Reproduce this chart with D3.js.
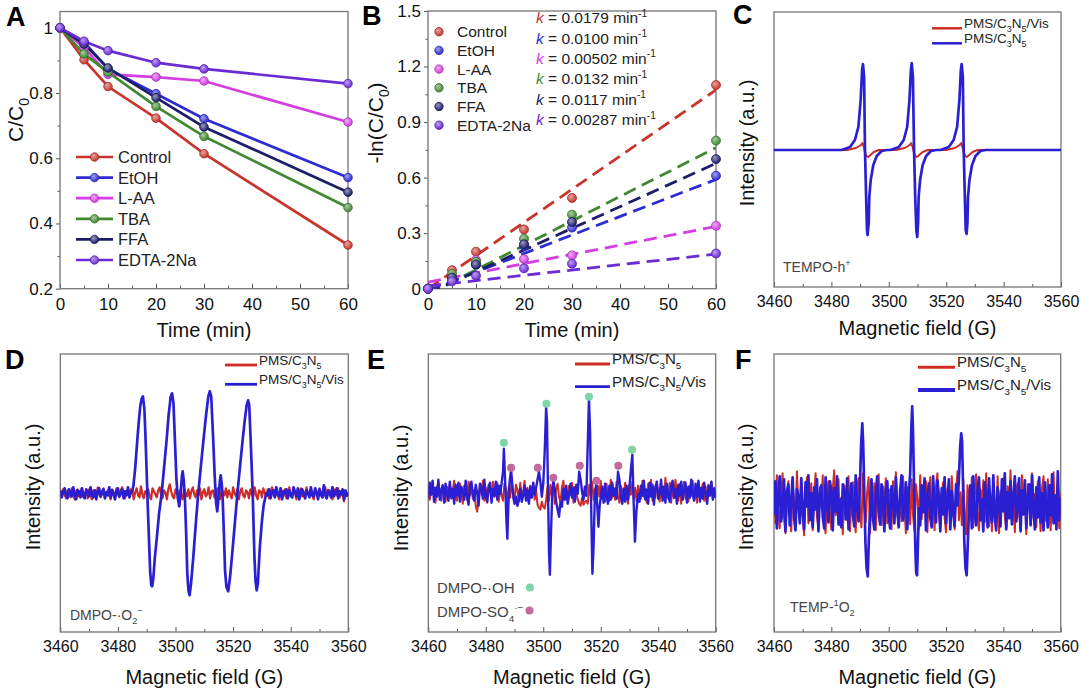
<!DOCTYPE html>
<html><head><meta charset="utf-8">
<script src="https://cdn.jsdelivr.net/npm/d3@7"></script>
<style>body{margin:0;background:#fff}svg{display:block}</style>
</head><body><svg id="c" width="1080" height="691"></svg>
<script>
// ---------------- DATA ----------------
const timeA = [0,5,10,20,30,60];
const seriesNames = ["Control","EtOH","L-AA","TBA","FFA","EDTA-2Na"];
const seriesColors = ["#c8352c","#2c2cd2","#d43de2","#3f8a30","#1d1d6b","#6a2ad4"];
// Panel A: C/C0
const ctrlA = [1,0.902,0.82,0.723,0.614,0.334];
const etohA = [1,0.956,0.874,0.798,0.721,0.541];
const laaA  = [1,0.94,0.857,0.849,0.837,0.711];
const tbaA  = [1,0.92,0.864,0.759,0.667,0.449];
const ffaA  = [1,0.95,0.877,0.786,0.696,0.496];
const edtaA = [1,0.959,0.93,0.893,0.874,0.829];
// Panel B: -ln(C/C0)
const ctrlB = [0,0.10,0.20,0.32,0.49,1.10];
const etohB = [0,0.05,0.13,0.23,0.33,0.61];
const laaB  = [0,0.06,0.155,0.16,0.18,0.34];
const tbaB  = [0,0.08,0.145,0.27,0.40,0.80];
const ffaB  = [0,0.06,0.13,0.24,0.36,0.70];
const edtaB = [0,0.04,0.07,0.11,0.135,0.19];
const kValues = [0.0179,0.0100,0.00502,0.0132,0.0117,0.00287];
const kLabels = ["0.0179","0.0100","0.00502","0.0132","0.0117","0.00287"];
const fitIntercepts = [0,-0.01,0.035,-0.03,-0.025,0.015];
// Axis ticks
const timeTicks = [0,10,20,30,40,50,60];
const timeMinor = [5,15,25,35,45,55];
const aTicks = [0.2,0.4,0.6,0.8,1.0];
const aMinor = [0.3,0.5,0.7,0.9];
const bTicks = [0,0.3,0.6,0.9,1.2,1.5];
const bMinor = [0.15,0.45,0.75,1.05,1.35];
const fieldTicks = [3460,3480,3500,3520,3540,3560];
const fieldMinor = [3470,3490,3510,3530,3550];

// Panel C spectra [field G, intensity a.u.]
const cBlue = [[3460,0],[3483.6,0],[3486.5,3],[3488.2,10],[3489.4,23],[3490.2,50],[3490.7,80],[3491.0,86],[3491.4,73],[3491.7,0],[3492.1,-47],[3492.4,-80],[3492.6,-85],[3493.0,-73],[3493.2,-47],[3493.7,-30],[3494.6,-15],[3495.8,-6],[3497.5,-1],[3499.3,0],
[3500.6,0],[3503.5,3],[3505.2,10],[3506.4,23],[3507.2,50],[3507.7,80],[3508.0,87],[3508.4,73],[3508.8,0],[3509.2,-47],[3509.6,-80],[3509.9,-87],[3510.2,-73],[3510.4,-47],[3510.9,-30],[3511.8,-15],[3513.0,-6],[3514.7,-1],[3516.5,0],
[3518.0,0],[3520.9,3],[3522.6,10],[3523.8,23],[3524.6,50],[3525.1,80],[3525.4,86],[3525.8,73],[3526.1,0],[3526.5,-47],[3526.8,-80],[3527.1,-84],[3527.4,-73],[3527.6,-47],[3528.1,-30],[3529.0,-15],[3530.2,-6],[3531.9,-1],[3533.7,0],[3560,0]];
const cRed = [[3460,0],[3485.5,0],[3488.5,2],[3490.3,5],[3490.8,7],[3491.3,3],[3491.7,-2],[3492.2,-6],[3492.8,-7],[3493.6,-5],[3494.8,-2],[3496.5,0],
[3502.5,0],[3505.5,2],[3507.3,5],[3507.8,7],[3508.3,3],[3508.7,-2],[3509.2,-6],[3509.8,-7],[3510.6,-5],[3511.8,-2],[3513.5,0],
[3520,0],[3523,2],[3524.7,5],[3525.2,7],[3525.7,3],[3526.1,-2],[3526.6,-6],[3527.2,-7],[3528,-5],[3529.2,-2],[3531,0],[3560,0]];

// Panel D
const dRedNoise = [2,-3,4,-1,-5,3,1,-4,5,-2,
-6,2,4,-3,0,5,-4,-1,3,-5,
4,-2,-6,3,1,-3,6,-1,-4,2,
5,-5,0,3,-2,-6,4,1,-3,5,
-1,-4,3,6,-2,-5,2,0,-3,4,
3,-6,1,5,-2,-4,7,-1,-5,2,
0,4,-3,-6,5,2,-1,-4,3,6,
-2,-5,3,1,-6,4,9,2,-3,-5,
4,1,-4,3,-2,-6,5,0,-3,4,
-5,2,6,-1,-4,3,-2,5,-6,1,
4,-3,-1,6,-5,2,3,-4,0,5,
-3,-6,4,1,-2,5,-4,3,-1,-5,
6,0,-3,4,-6,2,5,-2,-4,3,
1,-5,4,-1,-3,6,-2,-6,3,2,
-4,5,0,-3,4,-5,2,6,-1,-4,
3,-2,-6,5,1,-3,4,-5,0,6,
-2,-4,3,1,-6,4,-1,5,-3,2,
-5,6,0,-3,4,-2,-6,3,1,-4,
5,-1,-4,2,6,-5,0,3,-3,-6,
4,1,-2,5,-4,-1,3,-8,2,-3,
0];
const dBlueNoiseLeft = [3,-4,1,5,-2,-5,4,0,-3,6,
-1,-6,3,2,-4,5,-2,-5,4,1,
-3,6,-1,-4,3,-6,2,5,-3,0,
4,-5,1,-2,6,-4,3,-1,-6,2,
5,-3,0,4,-5,2,-2,6,-4,1];
const dBluePeaks = [[3485.0,2],[3485.4,8],[3486.0,25],[3486.6,48],[3487.2,70],[3487.8,88],[3488.3,95],[3488.7,97],[3489.2,84],[3489.6,55],[3490.0,20],[3490.4,-15],[3490.8,-47],[3491.2,-78],[3491.6,-92],[3491.9,-93],[3492.3,-85],[3492.8,-65],[3493.5,-45],[3494.3,-20],[3495.2,0],[3496.0,25],[3496.9,53],[3497.6,78],[3498.3,96],[3498.8,100],[3499.3,90],[3499.8,53],[3500.3,15],[3500.8,-5],[3501.3,-13],[3501.8,0],[3502.2,16],[3502.5,22],[3502.9,12],[3503.3,-7],[3503.7,-40],[3504.1,-80],[3504.5,-97],[3504.9,-102],[3505.4,-90],[3506.2,-63],[3507.0,-32],[3507.9,0],[3508.8,27],[3509.7,53],[3510.6,78],[3511.4,97],[3511.9,102],[3512.4,97],[3513.1,53],[3513.6,18],[3514.1,-10],[3514.5,-18],[3515.0,-2],[3515.4,12],[3515.7,18],[3516.1,8],[3516.4,-7],[3516.8,-40],[3517.2,-77],[3517.7,-94],[3518.3,-98],[3518.9,-85],[3519.7,-60],[3520.6,-30],[3521.5,0],[3522.4,27],[3523.3,53],[3524.0,72],[3524.7,88],[3525.2,93],[3525.6,88],[3526.1,53],[3526.8,0],[3527.4,-63],[3527.8,-88],[3528.2,-97],[3528.6,-90],[3529.3,-53],[3530.0,-28],[3530.6,-12],[3531.5,0]];
const dBlueNoiseRight = [-2,4,-5,1,3,-4,6,-1,-3,5,
-6,2,0,4,-5,3,-2,-4,6,1,
-3,5,-6,2,4,-1,-5,3,0,-4,
6,-2,-3,5,1,-6,4,-1,-4,8,
-2,-5,3,1,-4,6,-3,0,5,-5,
2,-1,4,-6,3,-2,1];

// Panel E
const eRedNoise = [6,-8,3,10,-5,-11,4,8,-3,-9,
7,2,-10,5,-4,9,-7,1,11,-6,
-9,4,8,-2,-12,6,3,-8,10,-4,
5,-7,2,-14,-20,-6,8,-3,11,-9,
4,-11,7,1,-8,10,-5,-2,9,-10,
6,-4,-9,8,3,-12,5,-6,10,-3,
-8,7,2,-10,9,-5,-1,11,-7,4,
-11,6,-3,9,-8,2,-13,-16,-18,-10,
-15,-17,-8,5,-9,7,-4,10,-12,3,
8,-6,-10,4,11,-7,1,-9,6,-3,
9,-11,5,-2,-8,-12,-14,-6,-13,-10,
-9,-12,7,-4,10,-8,3,-11,6,-5,
11,-7,2,-10,8,-3,-9,12,-6,4,
-8,10,-4,-11,6,1,-9,9,-5,-12,
7,-3,10,-8,4,-10,6,-1,-7,11,
-5,3,-11,8,-2,12,-9,5,-6,10,
-4,-10,7,2,-8,14,-3,-7,9,-11,
5,-6,12,-2,-9,8,-12,4,10,-7,
1,-10,6,-4,11,-8,3,-11,9,-5,
-2,8,-9,5,-12,7,-3,10,-7,4,
-6];
const eBlueNoise1 = [-7,9,-3,11,-10,4,-5,12,-8,2,
6,-11,8,-2,-9,10,-6,3,-12,7,
-4,9,-10,5,1,-8,11,-5,-13,6,
10,-3,-9,7,-1,-14,8,4,-7,12,
-6,-10,5,9,-11,3,-4,10,-8,6,
-2,8];
const eBluePeak1 = [[3486,20],[3486.3,43],[3486.8,5],[3487.2,-30],[3487.5,-47],[3487.9,-10],[3488.3,10],[3488.8,22],[3489.2,8],[3489.6,-6],[3490,-12]];
const eBlueNoise2 = [-5,-14,-8,3,-10,-4,6,-9,2,-12,5,-6,9,-3,4];
const eBluePeak2 = [[3498,12],[3498.5,20],[3499,10],[3499.5,-5],[3500,8],[3500.5,40],[3501,85],[3501.3,70],[3501.6,10],[3502,-60],[3502.3,-83],[3502.7,-40],[3503.1,-5],[3503.5,12],[3504,2],[3504.5,-10],[3505,-18],[3505.5,-25],[3506,-10]];
const eBlueNoise3 = [-15,3,-8,6,-12,-3,8,-6,4,-10,7,-2];
const eBluePeak3 = [[3512.5,20],[3513,12],[3513.5,0],[3514,-8],[3514.5,5],[3515,-4],[3515.5,50],[3515.9,93],[3516.3,60],[3516.7,-20],[3517.1,-82],[3517.5,-55],[3517.9,-10],[3518.4,8],[3518.8,-15],[3519.2,-35],[3519.6,-15]];
const eBlueNoise4 = [-6,5,-11,8,-3,-12,6,-8,9,-4,3,-7];
const eBluePeak4 = [[3526,20],[3526.5,12],[3527,-5],[3527.5,-12],[3528,3],[3528.5,-10],[3529,6],[3529.5,-8],[3530,5],[3530.5,22],[3531,37],[3531.4,-5],[3531.9,-50],[3532.4,-20],[3533,-2]];
const eBlueNoise5 = [-10,6,-4,11,-8,2,-12,9,-5,7,
-13,4,10,-7,-2,12,-9,5,-11,8,
-3,-10,6,11,-6,3,-12,7,-4,10,
-8,1,9,-11,5,-6,12,-3,-9,8,
-5,11,-10,4,-7,9,-2,-12,6,-4,
10,-8,3,-6];
const eOHMarks = [[3486.3,49],[3501.1,88],[3515.9,95],[3530.9,42]];
const eSO4Marks = [[3488.8,24],[3498.1,24],[3503.5,14],[3512.7,26],[3518.5,11],[3526.1,26]];

// Panel F
const fRedNoise = [15,-20,28,-8,-25,10,30,-15,-30,5,
22,-12,-28,18,3,-22,32,-5,-18,25,
-10,-32,12,26,-20,-6,20,-27,8,30,
-14,-25,16,-3,28,-18,-30,10,22,-9,
-26,14,33,-12,-5,24,-22,6,-31,18,
10,-17,27,-28,2,21,-13,-29,15,25,
-8,-24,30,-4,-19,12,26,-30,7,-15,
20,-27,4,29,-11,-22,17,-6,25,-20,
-2,14,-26,22,-14,31,-9,-23,11,-18,
27,-5,-30,16,8,-21,24,-12,-28,19,
5,-25,28,-16,13,-7,22,-29,10,26,
-19,3,-27,18,30,-11,-24,9,21,-14,
-29,15,6,-20,27,-3,-26,13,32,-17,
11,-22,24,-9,-31,18,4,-15,26,-24,
8,29,-12,-27,14,-4,23,-19,30,-8,
-23,10,-28,21,2,-16,27,-30,12,-6,
25,-13,-25,17,-2,33,-20,6,-29,14,
20,-10,-26,28,-7,12,-31,19,3,-21,
30,-15,9,-24,22,-4,-28,16,27,-12,
-18,24,-9,-27,13,31,-16,-2,21,-25,
10];
const fBlueNoise1 = [-12,22,-25,8,27,-18,-5,24,-28,11,
19,-22,3,26,-15,-27,14,6,-20,25,
-9,-26,21,-3,28,-17,10,-24,16,-6,
24,-28,7,18,-13,-25,26,-1,-19,22,
12,-27,15,-8,27,-21,4,-24,19,9,
-16,25,-26,6,20,-11,-23,28,-4,-18];
const fBluePeak1 = [[3490,20],[3490.4,60],[3490.8,80],[3491.1,60],[3491.5,10],[3491.9,-40],[3492.3,-65],[3492.7,-73],[3493.1,-35],[3493.5,-10]];
const fBlueNoise2 = [24,-15,-26,10,27,-8,-21,19,3,-28,
14,22,-12,-25,17,5,-20,26,-6,-24,
13,28,-17,-3,21,-26,9];
const fBluePeak2 = [[3507.5,30],[3507.9,75],[3508.2,97],[3508.5,70],[3508.9,10],[3509.3,-45],[3509.6,-70],[3509.9,-72],[3510.2,-40],[3510.6,-5]];
const fBlueNoise3 = [-22,18,-9,25,-27,6,20,-14,-24,27,
-4,-19,23,8,-28,15,-11,26,-20,2,
24,-26,12,-7,-23,19,-2];
const fBluePeak3 = [[3524.5,25],[3524.9,55],[3525.3,70],[3525.6,62],[3526,10],[3526.4,-40],[3526.8,-65],[3527.2,-72],[3527.6,-40],[3528,-8]];
const fBlueNoise4 = [18,-25,27,-10,-22,14,26,-17,4,-28,
21,9,-24,25,-6,-19,28,-13,-27,16,
2,-23,24,-8,30,-26,11,-15,22,-21,
7,27,-18,-4,25,-28,13,-11,23,-25,
5,19,-22,28,-7,-26,16,-14,26,-19,
10,-27,21,-3,-24,18,-12,29,-20,8,
-26,32,-17,6];

// ---------------- DRAWING ----------------
const FONT = 'Arial, "Liberation Sans", Helvetica, sans-serif';
const RED = "#cf2c25", BLUE = "#2a1fd2";
const svg = d3.select('#c').attr('font-family', FONT);
const defs = svg.append('defs');

function rich(sel, parts, size){
  let cur = 0;
  parts.forEach(p => {
    const [s,k,color] = p;
    const off = k==='sub' ? size*0.3 : (k==='sup' ? -size*0.42 : 0);
    const t = sel.append('tspan').text(s).attr('dy', off-cur);
    cur = off;
    if(k==='sub'||k==='sup') t.attr('font-size', size*0.66);
    if(k==='i') t.attr('font-style','italic');
    if(color) t.attr('fill', color);
  });
  return sel;
}

function panel(o){
  const x = d3.scaleLinear().domain(o.xd).range([o.l,o.r]);
  const y = d3.scaleLinear().domain(o.yd).range([o.b,o.t]);
  const g = svg.append('g');
  const id = 'clip'+o.name;
  defs.append('clipPath').attr('id',id).append('rect')
    .attr('x',o.l).attr('y',o.t).attr('width',o.r-o.l).attr('height',o.b-o.t);
  const ax = g.append('g').attr('transform',`translate(0,${o.b})`)
    .call(d3.axisBottom(x).tickValues(o.xt).tickSizeInner(-5).tickSizeOuter(0).tickPadding(9).tickFormat(d3.format('d')));
  ax.select('.domain').remove();
  ax.selectAll('text').attr('font-size',o.fs).attr('fill','#111').attr('font-family',FONT);
  ax.selectAll('line').attr('stroke','#555');
  const axm = g.append('g').attr('transform',`translate(0,${o.b})`)
    .call(d3.axisBottom(x).tickValues(o.xm).tickSizeInner(-3).tickSizeOuter(0).tickFormat(''));
  axm.select('.domain').remove(); axm.selectAll('line').attr('stroke','#555');
  if(o.yt){
    const ay = g.append('g').attr('transform',`translate(${o.l},0)`)
      .call(d3.axisLeft(y).tickValues(o.yt).tickSizeInner(4).tickSizeOuter(0).tickPadding(3).tickFormat(o.yf));
    ay.select('.domain').remove();
    ay.selectAll('text').attr('font-size',o.fs).attr('fill','#111').attr('font-family',FONT);
    ay.selectAll('line').attr('stroke','#555');
    const aym = g.append('g').attr('transform',`translate(${o.l},0)`)
      .call(d3.axisLeft(y).tickValues(o.ym).tickSizeInner(2.5).tickSizeOuter(0).tickFormat(''));
    aym.select('.domain').remove(); aym.selectAll('line').attr('stroke','#555');
  }
  g.append('rect').attr('x',o.l).attr('y',o.t).attr('width',o.r-o.l).attr('height',o.b-o.t)
    .attr('fill','none').attr('stroke','#767676').attr('stroke-width',1.3);
  svg.append('text').attr('x',o.lx).attr('y',o.ly).attr('font-size',27).attr('font-weight','bold').attr('fill','#000').text(o.name);
  svg.append('text').attr('x',(o.l+o.r)/2).attr('y',o.xty).attr('text-anchor','middle').attr('font-size',20).attr('fill','#111').text(o.xtitle);
  const yt = svg.append('text').attr('transform',`translate(${o.ytx},${o.yty}) rotate(-90)`)
    .attr('text-anchor','middle').attr('font-size',o.ytfs||20).attr('fill','#111');
  rich(yt, o.ytitle, o.ytfs||20);
  return {x,y,g,clip:`url(#${id})`};
}

function grad(id,color){
  const gr = defs.append('radialGradient').attr('id',id).attr('cx','38%').attr('cy','35%').attr('r','65%');
  gr.append('stop').attr('offset','0%').attr('stop-color', d3.interpolateRgb(color,'#ffffff')(0.55));
  gr.append('stop').attr('offset','100%').attr('stop-color', color);
}
seriesColors.forEach((c,i)=>grad('g'+i,c));

function buildSpectrum(segs){
  const pts = [];
  segs.forEach(s => {
    if(s.pts) s.pts.forEach(p => pts.push(p));
    else s.v.forEach((v,i) => pts.push([s.from + i*s.step, v]));
  });
  return pts;
}
function drawSpec(P, pts, color, w){
  P.g.append('path').datum(pts)
    .attr('d', d3.line().x(d=>P.x(d[0])).y(d=>P.y(d[1])))
    .attr('fill','none').attr('stroke',color).attr('stroke-width',w)
    .attr('stroke-linejoin','round').attr('clip-path',P.clip);
}
function specLegend(items, x1, x2, ys, fs, widths){
  items.forEach((it,i)=>{
    svg.append('line').attr('x1',x1).attr('x2',x2).attr('y1',ys[i]).attr('y2',ys[i])
      .attr('stroke',it.color).attr('stroke-width',widths[i]);
    const t = svg.append('text').attr('x',x2+2).attr('y',ys[i]).attr('dy','0.35em')
      .attr('font-size',fs).attr('fill','#222');
    rich(t, it.label, fs);
  });
}
const lblC3N5 = [["PMS/C"],["3","sub"],["N"],["5","sub"]];
const lblC3N5Vis = [["PMS/C"],["3","sub"],["N"],["5","sub"],["/Vis"]];

// ---------- Panel A ----------
const seriesA = [ctrlA,etohA,laaA,tbaA,ffaA,edtaA];
const PA = panel({name:'A', l:60, r:348, t:11.5, b:288.7, xd:[0,60], yd:[0.2,1.05],
  xt:timeTicks, xm:timeMinor, yt:aTicks, ym:aMinor, yf:d=>d===1?'1':d3.format('.1f')(d), fs:17,
  lx:6, ly:26, xty:337, xtitle:'Time (min)', ytx:23, yty:120, ytfs:21, ytitle:[["C/C"],["0","sub"]]});
seriesA.forEach((s,i)=>{
  PA.g.append('path').datum(s).attr('d', d3.line().x((d,j)=>PA.x(timeA[j])).y(d=>PA.y(d)))
    .attr('fill','none').attr('stroke',seriesColors[i]).attr('stroke-width',2.7);
});
seriesA.forEach((s,i)=>{
  PA.g.selectAll(null).data(s).enter().append('circle')
    .attr('cx',(d,j)=>PA.x(timeA[j])).attr('cy',d=>PA.y(d)).attr('r',4.3)
    .attr('fill',`url(#g${i})`).attr('stroke',d3.color(seriesColors[i]).darker(0.6)).attr('stroke-width',0.8);
});
seriesNames.forEach((n,i)=>{
  const yy = 157 + i*20.6;
  svg.append('line').attr('x1',76).attr('x2',113).attr('y1',yy).attr('y2',yy).attr('stroke',seriesColors[i]).attr('stroke-width',2.7);
  svg.append('circle').attr('cx',94.5).attr('cy',yy).attr('r',4.2).attr('fill',`url(#g${i})`).attr('stroke',d3.color(seriesColors[i]).darker(0.6)).attr('stroke-width',0.8);
  svg.append('text').attr('x',118).attr('y',yy).attr('dy','0.36em').attr('font-size',16.5).attr('fill','#222').text(n);
});

// ---------- Panel B ----------
const seriesB = [ctrlB,etohB,laaB,tbaB,ffaB,edtaB];
const PB = panel({name:'B', l:428, r:716, t:11, b:288.7, xd:[0,60], yd:[0,1.5],
  xt:timeTicks, xm:timeMinor, yt:bTicks, ym:bMinor, yf:d=>d===0?'0':d.toFixed(1), fs:17,
  lx:362, ly:25, xty:337, xtitle:'Time (min)', ytx:383, yty:123, ytfs:21, ytitle:[["-ln(C/C"],["0","sub"],[")"]]});
seriesB.forEach((s,i)=>{
  const b = fitIntercepts[i], k = kValues[i];
  PB.g.append('line').attr('x1',PB.x(0)).attr('y1',PB.y(b)).attr('x2',PB.x(60)).attr('y2',PB.y(b+k*60))
    .attr('stroke',seriesColors[i]).attr('stroke-width',2.8).attr('stroke-dasharray','13,7')
    .attr('clip-path',PB.clip);
});
seriesB.forEach((s,i)=>{
  PB.g.selectAll(null).data(s).enter().append('circle')
    .attr('cx',(d,j)=>PB.x(timeA[j])).attr('cy',d=>PB.y(d)).attr('r',4.5)
    .attr('fill',`url(#g${i})`).attr('stroke',d3.color(seriesColors[i]).darker(0.6)).attr('stroke-width',0.8);
});
seriesNames.forEach((n,i)=>{
  const yy = 31.7 + i*18.7;
  svg.append('circle').attr('cx',439).attr('cy',yy).attr('r',4.2).attr('fill',`url(#g${i})`).attr('stroke',d3.color(seriesColors[i]).darker(0.6)).attr('stroke-width',0.8);
  svg.append('text').attr('x',457).attr('y',yy).attr('dy','0.36em').attr('font-size',15.5).attr('fill','#222').text(n);
  const ky = 23.3 + i*20.35;
  const t = svg.append('text').attr('x',536).attr('y',ky).attr('dy','0.36em').attr('font-size',15.5).attr('fill','#222');
  rich(t, [["k","i",seriesColors[i]],[" = "+kLabels[i]+" min"],["-1","sup"]], 15.5);
});

// ---------- Panel C ----------
const PC = panel({name:'C', l:774, r:1061, t:12, b:287, xd:[3460,3560], yd:[-137,138],
  xt:fieldTicks, xm:fieldMinor, fs:16,
  lx:733, ly:24, xty:335, xtitle:'Magnetic field (G)', ytx:754, yty:143, ytitle:[["Intensity (a.u.)"]]});
drawSpec(PC, cRed, RED, 2);
drawSpec(PC, cBlue, BLUE, 2.7);
specLegend([{color:RED,label:lblC3N5Vis},{color:BLUE,label:lblC3N5}], 932, 962, [28.3,43.3], 13.5, [2.5,2.5]);
rich(svg.append('text').attr('x',783).attr('y',272).attr('font-size',14).attr('fill','#444'), [["TEMPO-h"],["+","sup"]], 14);

// ---------- Panel D ----------
const PD = panel({name:'D', l:60.3, r:348.3, t:354, b:632, xd:[3460,3560], yd:[-138.7,139.3],
  xt:fieldTicks, xm:fieldMinor, fs:16,
  lx:5, ly:369, xty:684, xtitle:'Magnetic field (G)', ytx:40, yty:487, ytitle:[["Intensity (a.u.)"]]});
drawSpec(PD, buildSpectrum([{from:3460,step:0.5,v:dRedNoise}]), RED, 2.2);
drawSpec(PD, buildSpectrum([{from:3460,step:0.5,v:dBlueNoiseLeft},{pts:dBluePeaks},{from:3532,step:0.5,v:dBlueNoiseRight}]), BLUE, 2.7);
specLegend([{color:RED,label:lblC3N5},{color:BLUE,label:lblC3N5Vis}], 225, 257, [365,384.3], 13.5, [2.8,2.8]);
rich(svg.append('text').attr('x',70).attr('y',620).attr('font-size',14).attr('fill','#444'), [["DMPO-·O"],["2","sub"],["−","sup"]], 14);

// ---------- Panel E ----------
const PE = panel({name:'E', l:428.3, r:715.7, t:354, b:632, xd:[3460,3560], yd:[-140.3,137.7],
  xt:fieldTicks, xm:fieldMinor, fs:16,
  lx:367, ly:369, xty:684, xtitle:'Magnetic field (G)', ytx:408, yty:488, ytitle:[["Intensity (a.u.)"]]});
drawSpec(PE, buildSpectrum([{from:3460,step:0.5,v:eRedNoise}]), RED, 2);
drawSpec(PE, buildSpectrum([{from:3460,step:0.5,v:eBlueNoise1},{pts:eBluePeak1},{from:3490.5,step:0.5,v:eBlueNoise2},{pts:eBluePeak2},{from:3506.5,step:0.5,v:eBlueNoise3},{pts:eBluePeak3},{from:3520,step:0.5,v:eBlueNoise4},{pts:eBluePeak4},{from:3533.5,step:0.5,v:eBlueNoise5}]), BLUE, 2.4);
PE.g.selectAll(null).data(eOHMarks).enter().append('circle').attr('cx',d=>PE.x(d[0])).attr('cy',d=>PE.y(d[1])).attr('r',4).attr('fill','#7ed6a5');
PE.g.selectAll(null).data(eSO4Marks).enter().append('circle').attr('cx',d=>PE.x(d[0])).attr('cy',d=>PE.y(d[1])).attr('r',4).attr('fill','#c06b9c');
specLegend([{color:RED,label:lblC3N5},{color:BLUE,label:lblC3N5Vis}], 575, 610, [364,386.7], 15, [2.8,2.8]);
svg.append('text').attr('x',437).attr('y',593).attr('font-size',15).attr('fill','#444').text('DMPO-·OH');
svg.append('circle').attr('cx',530).attr('cy',587.5).attr('r',4).attr('fill','#7ed6a5');
rich(svg.append('text').attr('x',437).attr('y',617).attr('font-size',15).attr('fill','#444'), [["DMPO-SO"],["4","sub"],["·−","sup"]], 15);
svg.append('circle').attr('cx',529.5).attr('cy',610.5).attr('r',4).attr('fill','#c06b9c');

// ---------- Panel F ----------
const PF = panel({name:'F', l:774, r:1060.7, t:354, b:632, xd:[3460,3560], yd:[-128.7,149.3],
  xt:fieldTicks, xm:fieldMinor, fs:16,
  lx:735, ly:369, xty:684, xtitle:'Magnetic field (G)', ytx:753, yty:487, ytitle:[["Intensity (a.u.)"]]});
drawSpec(PF, buildSpectrum([{from:3460,step:0.5,v:fRedNoise}]), RED, 2);
drawSpec(PF, buildSpectrum([{from:3460,step:0.5,v:fBlueNoise1},{pts:fBluePeak1},{from:3494,step:0.5,v:fBlueNoise2},{pts:fBluePeak2},{from:3511,step:0.5,v:fBlueNoise3},{pts:fBluePeak3},{from:3528.5,step:0.5,v:fBlueNoise4}]), BLUE, 2.7);
specLegend([{color:RED,label:lblC3N5},{color:BLUE,label:lblC3N5Vis}], 918, 955, [367.3,390], 15, [3,4]);
rich(svg.append('text').attr('x',790).attr('y',612).attr('font-size',14).attr('fill','#444'), [["TEMP-"],["1","sup"],["O"],["2","sub"]], 14);
</script></body></html>
